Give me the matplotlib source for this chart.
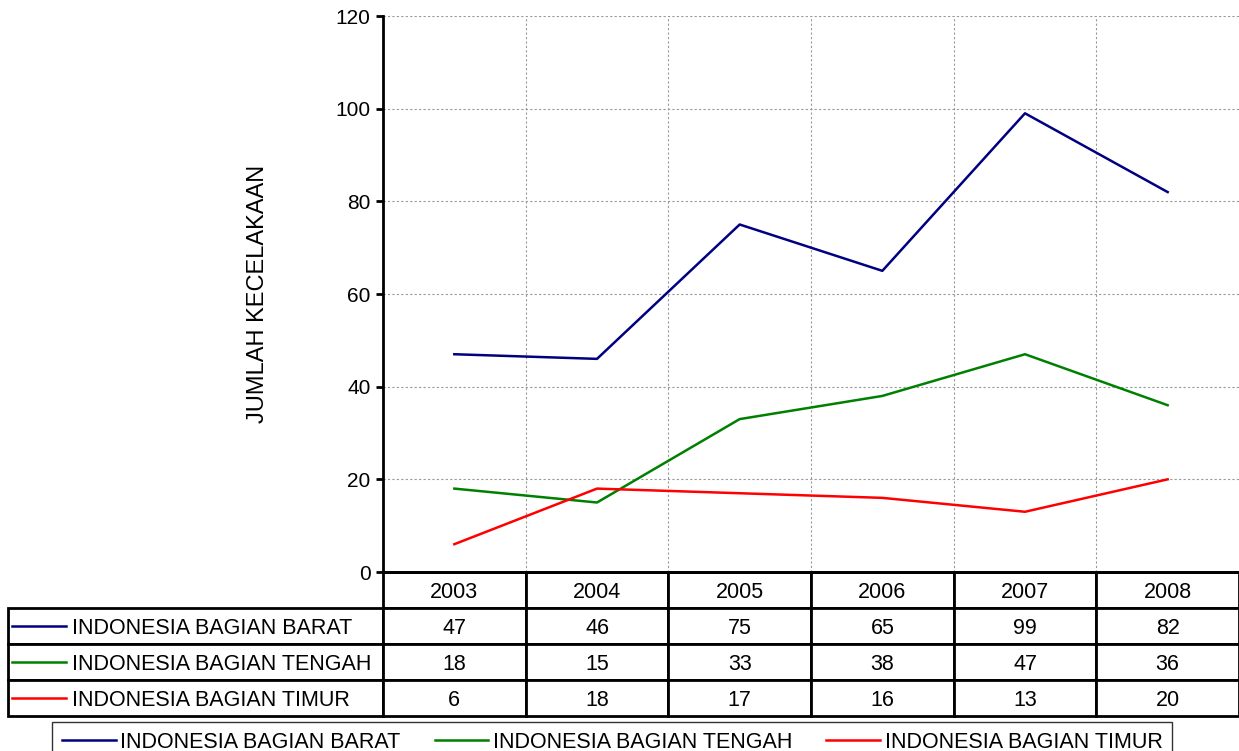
import matplotlib
matplotlib.use("Agg")
import matplotlib.pyplot as plt
from matplotlib.table import Table
from matplotlib.lines import Line2D

plt.rcParams['font.family'] = ['Liberation Sans', 'DejaVu Sans']

# data dari grafik
years = ["2003", "2004", "2005", "2006", "2007", "2008"]
regions = ["INDONESIA BAGIAN BARAT", "INDONESIA BAGIAN TENGAH", "INDONESIA BAGIAN TIMUR"]
barat = [47, 46, 75, 65, 99, 82]
tengah = [18, 15, 33, 38, 47, 36]
timur = [6, 18, 17, 16, 13, 20]
colors = ["#000080", "#008000", "#ff0000"]
ylabel = "JUMLAH KECELAKAAN"

series = [barat, tengah, timur]

W, H = 1239, 751
fig = plt.figure(figsize=(W / 100, H / 100), dpi=100)
ax = fig.add_axes([383 / W, 1 - 572 / H, 1 - 383 / W, (572 - 16) / H])

x = range(len(years))
for vals, lab, c in zip(series, regions, colors):
    ax.plot(x, vals, color=c, lw=1.8, label=lab)

ax.set_xlim(-0.5, len(years) - 0.5)
ax.set_ylim(0, 120)
ax.set_yticks(range(0, 121, 20))
ax.set_xticks([])
ax.set_xticks([i + 0.5 for i in range(len(years) - 1)], minor=True)
ax.tick_params(axis='x', which='both', length=0)
ax.tick_params(axis='y', direction='out', length=5, width=2, labelsize=15, pad=4)
ax.grid(axis='y', which='major', color='#999999', lw=0.8, ls=(0, (2, 2)))
ax.grid(axis='x', which='minor', color='#999999', lw=0.8, ls=(0, (2, 2)))
for s in ['top', 'right']:
    ax.spines[s].set_visible(False)
ax.spines['left'].set_linewidth(2)
ax.spines['bottom'].set_linewidth(2)
ax.set_ylabel(ylabel, fontsize=17, labelpad=48)

# tabel data dibawah grafik
ax_w = W - 383
ax_h = 572 - 16
tx0 = (8 - 383) / ax_w
th = (716 - 572) / ax_h
tbl = Table(ax, bbox=[tx0, -th, 1 - tx0, th])
label_w = 375 / (W - 8)
col_w = (1 - label_w) / len(years)
rh = 1 / 4
for j, yr in enumerate(years):
    tbl.add_cell(0, j + 1, col_w, rh, text=yr, loc='center')
for i, (lab, vals) in enumerate(zip(regions, series)):
    c = tbl.add_cell(i + 1, 0, label_w, rh, text=lab, loc='left')
    c.PAD = 64 / 375
    for j, v in enumerate(vals):
        tbl.add_cell(i + 1, j + 1, col_w, rh, text=str(v), loc='center')
tbl.auto_set_font_size(False)
tbl.set_fontsize(15.5)
for (r, col), cell in tbl.get_celld().items():
    cell.set_linewidth(2)
    cell.set_edgecolor('black')
    cell.get_text().set_va('center_baseline')
ax.add_table(tbl)

# garis warna di kolom label
for i, c in enumerate(colors):
    yc = -th + th * (3 - i - 0.5) / 4
    ax.add_line(Line2D([(12 - 383) / ax_w, (66 - 383) / ax_w], [yc, yc],
                       color=c, lw=1.8, transform=ax.transAxes, clip_on=False))

leg = fig.legend(loc='upper left', bbox_to_anchor=(52 / W, 1 - 722 / H), ncol=3,
                 fontsize=15.5, frameon=True, fancybox=False, handlelength=2.5,
                 handletextpad=0.2, columnspacing=1.6, borderpad=0.45,
                 borderaxespad=0)
leg.get_frame().set_edgecolor('black')
leg.get_frame().set_linewidth(1)

fig.savefig("out.png", dpi=100)
